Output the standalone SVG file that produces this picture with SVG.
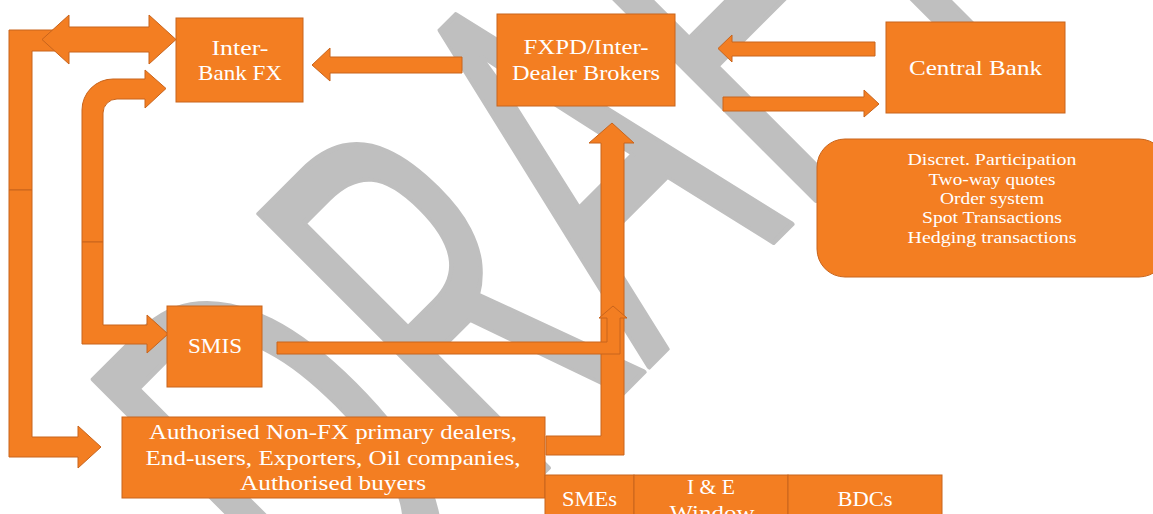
<svg xmlns="http://www.w3.org/2000/svg" width="1153" height="514" viewBox="0 0 1153 514">
<style>
.n{fill:#F37E22;stroke:#C8641C;stroke-width:1}
.c{fill:#F37E22;stroke:#C8641C;stroke-width:1}
text{font-family:"Liberation Serif","DejaVu Serif",serif;fill:#fff;text-anchor:middle}
.t22{font-size:22px}
.t21{font-size:21px}
.t16{font-size:16px}
.wm{font-family:"Open Sans","Liberation Sans",sans-serif;font-size:538px;fill:#BFBFBF;stroke:#BFBFBF;stroke-width:5;stroke-linejoin:round;text-anchor:start}
</style>
<rect width="1153" height="514" fill="#fff"/>
<g id="watermark">
<text class="wm" x="0" y="0" transform="translate(342,674) rotate(-45) scale(0.6,1)">DRAFT</text>
</g>
<g id="connectors">
<path class="c" d="M9,30 H60 V51 H32 V190 H9 Z"/>
<path class="c" d="M9,190 H32 V437 H78 V426 L101,447 L78,468 V457 H9 Z"/>
<path class="c" d="M42,39.5 L69,15 V27 H149 V15 L176,39.5 L149,64 V52 H69 V64 Z"/>
<path class="c" d="M82,242 V110 A31,31 0 0 1 113,79 H145 V70 L166,88.5 L145,108 V99 H117 A14,14 0 0 0 103,113 V242 Z"/>
<path class="c" d="M82,242 H103 V325 H147 V315 L168,334 L147,353 V344 H82 Z"/>
<path class="c" d="M312,65 L330,48 V57 H462 V73 H330 V81 Z"/>
<path class="c" d="M718,48.5 L732,35 V42 H875 V56 H732 V62 Z"/>
<path class="c" d="M723,97 H864 V90 L879,104 L864,117 V111 H723 Z"/>
<path class="c" d="M546,436 H601 V143 H589 L612,123 L634,143 H624 V455 H546 Z"/>
<path class="c" d="M277,342 H607 V318 H599 L613,306 L627,318 H620 V354 H277 Z"/>
</g>
<g id="interbank">
<rect class="n" x="176" y="18" width="127" height="84"/>
<text class="t22" x="240" y="55" textLength="57" lengthAdjust="spacingAndGlyphs">Inter-</text>
<text class="t22" x="240" y="80" textLength="84" lengthAdjust="spacingAndGlyphs">Bank FX</text>
</g>
<g id="fxpd">
<rect class="n" x="497" y="14" width="178" height="92"/>
<text class="t22" x="586" y="54" textLength="125" lengthAdjust="spacingAndGlyphs">FXPD/Inter-</text>
<text class="t22" x="586" y="80" textLength="148" lengthAdjust="spacingAndGlyphs">Dealer Brokers</text>
</g>
<g id="centralbank">
<rect class="n" x="886" y="22" width="179" height="91"/>
<text class="t22" x="975.5" y="75" textLength="133" lengthAdjust="spacingAndGlyphs">Central Bank</text>
</g>
<g id="features">
<rect class="n" x="817" y="139" width="350" height="138" rx="28"/>
<text class="t16" x="992" y="165" textLength="169" lengthAdjust="spacingAndGlyphs">Discret. Participation</text>
<text class="t16" x="992" y="185" textLength="127" lengthAdjust="spacingAndGlyphs">Two-way quotes</text>
<text class="t16" x="992" y="204" textLength="104" lengthAdjust="spacingAndGlyphs">Order system</text>
<text class="t16" x="992" y="223" textLength="140" lengthAdjust="spacingAndGlyphs">Spot Transactions</text>
<text class="t16" x="992" y="243" textLength="169" lengthAdjust="spacingAndGlyphs">Hedging transactions</text>
</g>
<g id="smis">
<rect class="n" x="167" y="306" width="95" height="81"/>
<text class="t22" x="215" y="353" textLength="54" lengthAdjust="spacingAndGlyphs">SMIS</text>
</g>
<g id="authorised">
<rect class="n" x="122" y="417" width="423" height="81"/>
<text class="t21" x="333" y="439" textLength="368" lengthAdjust="spacingAndGlyphs">Authorised Non-FX primary dealers,</text>
<text class="t21" x="333" y="465" textLength="375" lengthAdjust="spacingAndGlyphs">End-users, Exporters, Oil companies,</text>
<text class="t21" x="333" y="490" textLength="186" lengthAdjust="spacingAndGlyphs">Authorised buyers</text>
</g>
<g id="smes">
<rect class="n" x="545" y="475" width="89" height="50"/>
<text class="t22" x="589.5" y="506" textLength="55" lengthAdjust="spacingAndGlyphs">SMEs</text>
</g>
<g id="iewindow">
<rect class="n" x="634" y="475" width="154" height="50"/>
<text class="t22" x="711" y="494" textLength="48" lengthAdjust="spacingAndGlyphs">I &amp; E</text>
<text class="t22" x="712" y="520" textLength="85" lengthAdjust="spacingAndGlyphs">Window</text>
</g>
<g id="bdcs">
<rect class="n" x="788" y="475" width="154" height="50"/>
<text class="t22" x="865" y="506" textLength="55" lengthAdjust="spacingAndGlyphs">BDCs</text>
</g>
</svg>
